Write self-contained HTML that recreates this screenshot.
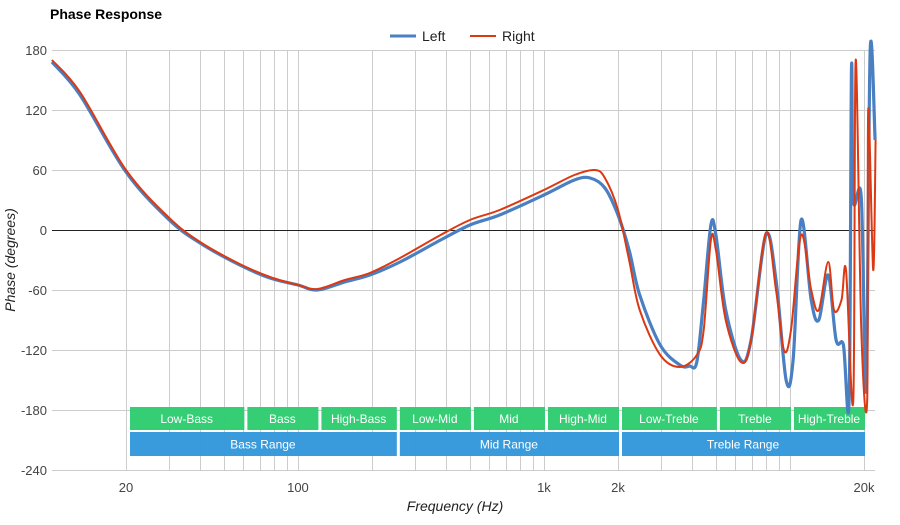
<!DOCTYPE html>
<html><head><meta charset="utf-8"><style>
body{margin:0;background:#fff;font-family:"Liberation Sans",Arial,sans-serif}
svg text{font-family:"Liberation Sans",Arial,sans-serif}
</style></head><body>
<svg id="c" width="900" height="520">
<rect width="900" height="520" fill="#fff"/>
<text x="50" y="19" font-size="14" font-weight="bold" fill="#000">Phase Response</text>
<g>
<g><line x1="390" y1="36" x2="416" y2="36" stroke="#4a7fc1" stroke-width="3"/><text x="422" y="41" font-size="14" fill="#222">Left</text></g>
<g><line x1="470" y1="36" x2="496" y2="36" stroke="#dc3912" stroke-width="2"/><text x="502" y="41" font-size="14" fill="#222">Right</text></g>
</g>
<g id="grid"></g><g id="zero"></g><g id="bands"></g><g id="series"></g><g id="axes"></g>
<text transform="translate(15,260) rotate(-90)" text-anchor="middle" font-size="14" font-style="italic" fill="#222">Phase (degrees)</text>
<text x="455" y="511" text-anchor="middle" font-size="14" font-style="italic" fill="#222">Frequency (Hz)</text>
</svg>
<script>
const yTicks=[180,120,60,0,-60,-120,-180,-240];
const xTickLabels=["20","100","1k","2k","20k"];
const xTickValues=[20,100,1000,2000,20000];
const gridFreqs=[20,30,40,50,60,70,80,90,100,200,300,400,500,600,700,800,900,1000,2000,3000,4000,5000,6000,7000,8000,9000,10000,20000];
const leftFreq=[10,13,20,30,40,58,77,100,120,155,196,260,380,500,660,1000,1330,1540,1770,2000,2220,2450,2970,3570,3910,4180,4460,4770,5000,5480,6320,6950,7980,8780,9650,10300,11100,12200,13100,14300,15400,16500,17400,17800,18100,19500,20400,21200,22200];
const leftPhase=[168,135,58,10,-13,-35,-48,-55,-60,-52,-45,-32,-10,5,15,35,50,52,42,15,-20,-65,-115,-135,-136,-132,-70,5,-5,-80,-130,-110,-5,-50,-150,-130,10,-70,-90,-45,-110,-115,-170,162,30,32,-160,180,90];
const rightFreq=[10,13,20,30,40,58,77,100,120,155,196,260,380,500,660,1000,1330,1610,1770,2000,2220,2450,2970,3570,4180,4460,4770,5000,5480,6320,6950,7980,8780,9450,10100,11100,12200,13100,14300,15100,16200,16900,18100,18500,19500,20600,20800,21800,22300];
const rightPhase=[170,138,60,12,-12,-34,-47,-55,-59,-50,-43,-28,-5,10,20,40,55,60,52,20,-30,-80,-125,-137,-125,-100,-10,-20,-90,-132,-110,-3,-60,-120,-100,-5,-60,-80,-32,-80,-70,-40,-170,170,-100,-170,120,-40,90];
const bandNames=["Low-Bass","Bass","High-Bass","Low-Mid","Mid","High-Mid","Low-Treble","Treble","High-Treble"];
const bandEdges=[20,60,120,250,500,1000,2000,5000,10000,20000];
const rangeNames=["Bass Range","Mid Range","Treble Range"];
const rangeEdges=[20,250,2000,20000];
const X=f=>126+246*Math.log10(f/20);
const Y=p=>230-p;
const NS="http://www.w3.org/2000/svg";
function mk(t,a,parent){const e=document.createElementNS(NS,t);for(const k in a)e.setAttribute(k,a[k]);parent.appendChild(e);return e;}
const grid=document.getElementById('grid'),zero=document.getElementById('zero'),axes=document.getElementById('axes'),bands=document.getElementById('bands'),series=document.getElementById('series');
yTicks.forEach(v=>{
 const l=mk('line',{x1:52,x2:875,y1:Y(v)+0.5,y2:Y(v)+0.5,stroke:v===0?'#222':'#ccc','stroke-width':1},v===0?zero:grid);
 
 
 const t=mk('text',{x:47,y:Y(v)+5,'text-anchor':'end','font-size':13,fill:'#444'},axes);t.textContent=v;
 
 
});
gridFreqs.forEach(f=>{
 const xx=Math.round(X(f))+0.5;
 const l=mk('line',{x1:xx,x2:xx,y1:50,y2:470,stroke:'#ccc','stroke-width':1},grid);
 
 
});
xTickValues.forEach((f,i)=>{
 const t=mk('text',{x:X(f),y:492,'text-anchor':'middle','font-size':13,fill:'#444'},axes);t.textContent=xTickLabels[i];
 
 
});
function band(x1,x2,y,h,fill,name){
 const g=mk('g',{},bands);
 
 
 mk('rect',{x:x1+4,y:y,width:x2-x1-3,height:h,fill:fill,opacity:0.97},g);
 const t=mk('text',{x:(x1+x2)/2+2,y:y+h/2+4.5,'text-anchor':'middle','font-size':12,fill:'#fff'},g);t.textContent=name;
}
bandNames.forEach((n,i)=>band(X(bandEdges[i]),X(bandEdges[i+1]),407,23,'#2ecc71',n));
rangeNames.forEach((n,i)=>band(X(rangeEdges[i]),X(rangeEdges[i+1]),432,24,'#3498db',n));
function path(fs,ps){
 const pts=fs.map((f,i)=>[X(f),Y(ps[i])]);
 let d='M'+pts[0][0].toFixed(1)+','+pts[0][1].toFixed(1);
 for(let i=0;i<pts.length-1;i++){
  const p0=pts[Math.max(0,i-1)],p1=pts[i],p2=pts[i+1],p3=pts[Math.min(pts.length-1,i+2)];
  const t=0.5/3;
  const c1=[p1[0]+(p2[0]-p0[0])*t,p1[1]+(p2[1]-p0[1])*t];
  const c2=[p2[0]-(p3[0]-p1[0])*t,p2[1]-(p3[1]-p1[1])*t];
  d+=' C'+c1.map(v=>v.toFixed(1))+' '+c2.map(v=>v.toFixed(1))+' '+p2.map(v=>v.toFixed(1));
 }
 return d;
}
const lp=mk('path',{d:path(leftFreq,leftPhase),fill:'none',stroke:'#4a7fc1','stroke-width':3.2,'stroke-linejoin':'round'},series);


const rp=mk('path',{d:path(rightFreq,rightPhase),fill:'none',stroke:'#dc3912','stroke-width':2,'stroke-linejoin':'round'},series);


</script>
</body></html>
